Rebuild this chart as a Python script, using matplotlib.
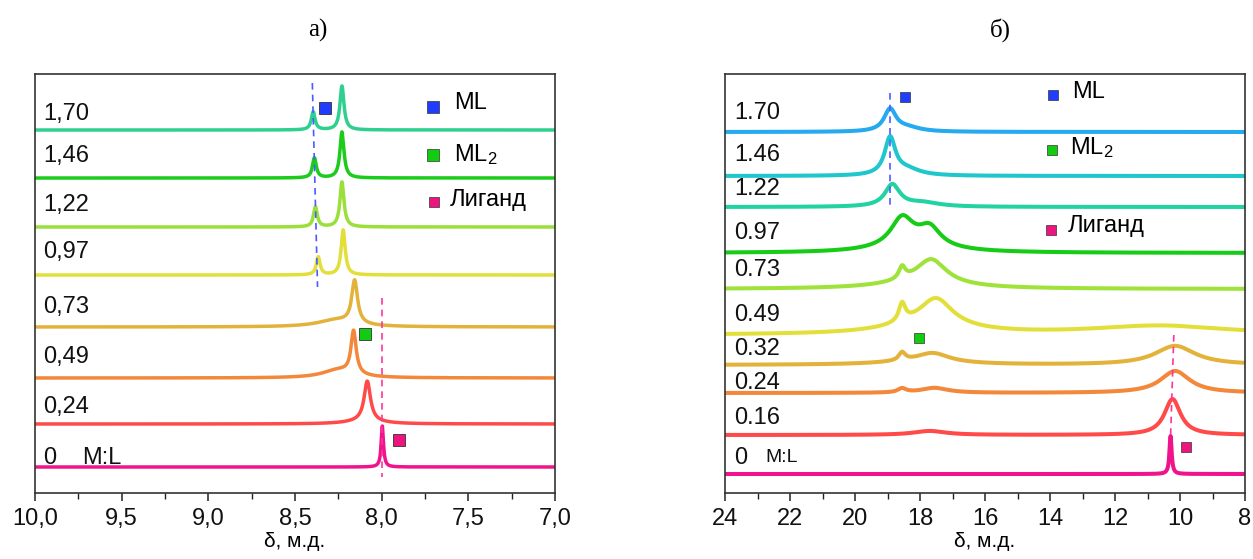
import numpy as np
import matplotlib
matplotlib.use("Agg")
import matplotlib.pyplot as plt
from matplotlib.ticker import MultipleLocator, FuncFormatter

plt.rcParams['font.family'] = ['Liberation Sans', 'DejaVu Sans']
plt.rcParams['mathtext.fontset'] = 'custom'
plt.rcParams['mathtext.rm'] = 'Liberation Sans'
plt.rcParams['mathtext.it'] = 'Liberation Sans'

# ---------------- Panel а) data ----------------
left_labels = ["1,70", "1,46", "1,22", "0,97", "0,73", "0,49", "0,24", "0"]
left_colors = ["#2fd08f", "#1ccc1c", "#9be03a", "#e2df3a", "#e3b23a", "#f3873a", "#ff4a4a", "#f0148c"]
left_offsets = [363, 315, 266, 218, 166, 115, 69, 26]
left_label_y = [379, 337, 288, 241, 186, 136, 86, 35]
# peaks per trace: (position ppm, height, half-width ppm)
left_peaks = [
    [(8.395, 18, 0.013), (8.229, 44, 0.014)],
    [(8.388, 20, 0.013), (8.229, 46, 0.014)],
    [(8.382, 20, 0.013), (8.229, 45, 0.014)],
    [(8.366, 18, 0.013), (8.222, 45, 0.014)],
    [(8.156, 43, 0.020), (8.26, 7, 0.13)],
    [(8.162, 43, 0.018), (8.25, 8, 0.11)],
    [(8.083, 40, 0.022), (8.10, 3, 0.12)],
    [(7.996, 41, 0.008)],
]

# ---------------- Panel б) data ----------------
right_labels = ["1.70", "1.46", "1.22", "0.97", "0.73", "0.49", "0.32", "0.24", "0.16", "0"]
right_colors = ["#25aaf0", "#1fc6cc", "#22d2a2", "#16cc16", "#9ee23a", "#e2df3a", "#e3b23a", "#f3873a", "#ff4a4a", "#f0148c"]
right_offsets = [361, 317, 286, 240, 204, 158, 128, 100, 58, 19]
right_label_y = [380, 338, 304, 260, 223, 178, 144, 110, 75, 35]
right_peaks = [
    [(18.92, 22, 0.22), (18.40, 4, 0.5)],
    [(18.92, 37, 0.20), (18.40, 6, 0.5)],
    [(18.85, 22, 0.28), (17.90, 4, 0.6)],
    [(18.55, 28, 0.42), (17.70, 18, 0.40), (18.2, 7, 1.3)],
    [(18.55, 12, 0.12), (17.65, 24, 0.55), (18.0, 6, 1.5)],
    [(18.55, 18, 0.12), (17.50, 26, 0.60), (17.8, 10, 1.5), (10.6, 9, 2.6)],
    [(18.55, 8, 0.12), (17.60, 9, 0.60), (18.0, 3, 1.5), (10.15, 19, 0.75)],
    [(18.55, 4, 0.15), (17.55, 5, 0.50), (10.15, 22, 0.55)],
    [(17.70, 4, 0.60), (10.23, 36, 0.30)],
    [(10.29, 38, 0.04)],
]


def spectrum(x, offset, peaks):
    y = np.full_like(x, float(offset))
    for pos, h, w in peaks:
        y += h / (1.0 + ((x - pos) / w) ** 2)
    return y


W, H = 1253, 559
fig = plt.figure(figsize=(W / 100, H / 100), dpi=100)
ax1 = fig.add_axes([35 / W, 66 / H, 520 / W, 419 / H])
ax2 = fig.add_axes([725 / W, 66 / H, 520 / W, 419 / H])

FS = 17
blue = "#1f3cff"
green = "#12cc12"
pink = "#ee1480"

# ---- left panel ----
xl = np.linspace(7.0, 10.0, 4000)
for lab, c, off, ly, pk in zip(left_labels, left_colors, left_offsets, left_label_y, left_peaks):
    ax1.plot(xl, spectrum(xl, off, pk), color=c, lw=2.5, solid_capstyle='butt')
    ax1.text(9.955, ly, lab, fontsize=FS, ha='left', va='center', color='#111111')
ax1.text(9.73, 35, "M:L", fontsize=FS, ha='left', va='center', color='#111111')
ax1.plot([8.40, 8.37], [410, 206], ls=(0, (4, 3)), color="#4a5cff", lw=1.2)
ax1.plot([8.0, 8.0], [195, 16], ls=(0, (4, 3)), color="#ff3399", lw=1.2)
ax1.plot([8.328], [385], 's', ms=9, color=blue, mec="#333333", mew=0.6)
ax1.plot([8.096], [159], 's', ms=9, color=green, mec="#333333", mew=0.6)
ax1.plot([7.90], [53], 's', ms=9, color=pink, mec="#333333", mew=0.6)
# legend
ax1.plot([7.704], [386], 's', ms=8, color=blue, mec="#333333", mew=0.5)
ax1.text(7.583, 390, "ML", fontsize=FS, ha='left', va='center')
ax1.plot([7.704], [338], 's', ms=8, color=green, mec="#333333", mew=0.5)
ax1.text(7.583, 338, "ML$_2$", fontsize=FS, ha='left', va='center')
ax1.plot([7.70], [291], 's', ms=7, color=pink, mec="#333333", mew=0.5)
ax1.text(7.61, 293, "Лиганд", fontsize=FS, ha='left', va='center')
ax1.set_xlim(10.0, 7.0)
ax1.xaxis.set_major_locator(MultipleLocator(0.5))
ax1.xaxis.set_minor_locator(MultipleLocator(0.25))
ax1.xaxis.set_major_formatter(FuncFormatter(lambda v, p: f"{v:.1f}".replace('.', ',')))

# ---- right panel ----
xr = np.linspace(8.0, 24.0, 6000)
for lab, c, off, ly, pk in zip(right_labels, right_colors, right_offsets, right_label_y, right_peaks):
    ax2.plot(xr, spectrum(xr, off, pk), color=c, lw=2.9, solid_capstyle='butt')
    ax2.text(23.72, ly, lab, fontsize=FS, ha='left', va='center', color='#111111')
ax2.text(22.77, 36, "M:L", fontsize=FS - 3, ha='left', va='center', color='#111111')
ax2.plot([18.92, 18.92], [400, 285], ls=(0, (4, 3)), color="#4a5cff", lw=1.2)
ax2.plot([10.19, 10.29], [158, 56], ls=(0, (4, 3)), color="#ff3399", lw=1.2)
ax2.plot([18.46], [396], 's', ms=7.5, color=blue, mec="#333333", mew=0.5)
ax2.plot([18.02], [155], 's', ms=7.5, color=green, mec="#333333", mew=0.5)
ax2.plot([9.81], [46], 's', ms=7.5, color=pink, mec="#333333", mew=0.5)
ax2.plot([13.9], [398], 's', ms=7, color=blue, mec="#333333", mew=0.5)
ax2.text(13.32, 401, "ML", fontsize=FS, ha='left', va='center')
ax2.plot([13.95], [343], 's', ms=7, color=green, mec="#333333", mew=0.5)
ax2.text(13.38, 345, "ML$_2$", fontsize=FS, ha='left', va='center')
ax2.plot([13.96], [263], 's', ms=6.5, color=pink, mec="#333333", mew=0.5)
ax2.text(13.44, 267, "Лиганд", fontsize=FS, ha='left', va='center')
ax2.set_xlim(24, 8)
ax2.xaxis.set_major_locator(MultipleLocator(2))
ax2.xaxis.set_minor_locator(MultipleLocator(1))
ax2.xaxis.set_major_formatter(FuncFormatter(lambda v, p: f"{v:.0f}"))

for ax in (ax1, ax2):
    ax.set_ylim(0, 419)
    ax.set_yticks([])
    for s in ax.spines.values():
        s.set_color("#333333")
        s.set_linewidth(1.2)
    ax.tick_params(axis='x', which='major', direction='out', length=6, width=1.1,
                   labelsize=FS, pad=5, colors="#222222", labelcolor="#111111")
    ax.tick_params(axis='x', which='minor', direction='out', length=4, width=1.0, colors="#222222")
    ax.set_xlabel("δ, м.д.", fontsize=15, labelpad=1)

fig.text(318 / W, 1 - 30 / H, "а)", fontsize=18, ha='center', va='center',
         family=['Liberation Serif', 'DejaVu Serif'])
fig.text(1000 / W, 1 - 30 / H, "б)", fontsize=18, ha='center', va='center',
         family=['Liberation Serif', 'DejaVu Serif'])

fig.savefig("out.png", dpi=100)
